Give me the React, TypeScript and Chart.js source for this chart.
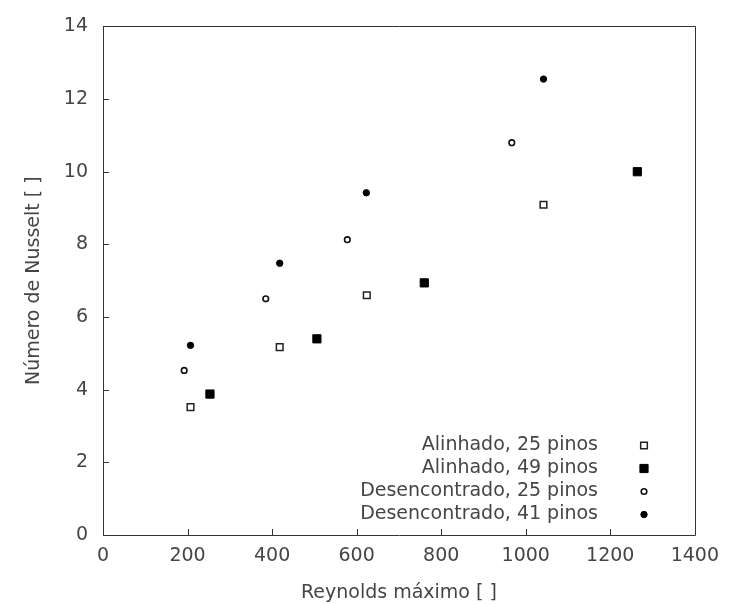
import React, { useEffect, useRef } from 'react';
import { Chart, registerables } from 'chart.js';

Chart.register(...registerables);

// ---- data ----
const seriesLabels = [
  'Alinhado, 25 pinos',
  'Alinhado, 49 pinos',
  'Desencontrado, 25 pinos',
  'Desencontrado, 41 pinos',
];
const reAlinhado25 = [207, 418, 624, 1042];
const nuAlinhado25 = [3.52, 5.17, 6.6, 9.09];
const reAlinhado49 = [253, 506, 760, 1264];
const nuAlinhado49 = [3.88, 5.4, 6.94, 10.0];
const reDesenc25 = [192, 385, 578, 967];
const nuDesenc25 = [4.53, 6.5, 8.13, 10.8];
const reDesenc41 = [207, 418, 623, 1042];
const nuDesenc41 = [5.22, 7.48, 9.42, 12.55];

const xTickValues = [0, 200, 400, 600, 800, 1000, 1200, 1400];
const yTickValues = [0, 2, 4, 6, 8, 10, 12, 14];
const xTitle = 'Reynolds máximo [ ]';
const yTitle = 'Número de Nusselt [ ]';

const FONT = "'DejaVu Sans', Verdana, sans-serif";
const FS = 19;
const TEXT = '#454545';
const AXIS = '#333333';

const pts = (xs: number[], ys: number[]) => xs.map((x, i) => ({ x, y: ys[i] }));

const markerStyles = [
  { pointStyle: 'rect', radius: 4.7, bg: '#ffffff', border: '#222222', bw: 1.5 },
  { pointStyle: 'rect', radius: 5.8, bg: '#000000', border: '#000000', bw: 1 },
  { pointStyle: 'circle', radius: 2.8, bg: '#ffffff', border: '#111111', bw: 1.6 },
  { pointStyle: 'circle', radius: 3.2, bg: '#000000', border: '#000000', bw: 1 },
];

function drawMarker(ctx: CanvasRenderingContext2D, style: any, x: number, y: number) {
  ctx.save();
  ctx.fillStyle = style.bg;
  ctx.strokeStyle = style.border;
  ctx.lineWidth = style.bw;
  ctx.beginPath();
  if (style.pointStyle === 'rect') {
    const s = Math.SQRT1_2 * style.radius;
    ctx.rect(x - s, y - s, 2 * s, 2 * s);
  } else {
    ctx.arc(x, y, style.radius, 0, Math.PI * 2);
  }
  ctx.fill();
  ctx.stroke();
  ctx.restore();
}

const framePlugin = {
  id: 'frameAndTicks',
  afterDatasetsDraw(chart: any) {
    const { ctx, chartArea } = chart;
    const { left, right, top, bottom } = chartArea;
    const xs = chart.scales.x;
    const ys = chart.scales.y;
    ctx.save();
    ctx.strokeStyle = AXIS;
    ctx.lineWidth = 1;
    ctx.beginPath();
    ctx.rect(Math.round(left) + 0.5, Math.round(top) + 0.5, Math.round(right - left), Math.round(bottom - top));
    ctx.stroke();
    ctx.beginPath();
    xTickValues.forEach((v) => {
      const px = Math.round(xs.getPixelForValue(v)) + 0.5;
      ctx.moveTo(px, bottom);
      ctx.lineTo(px, bottom - 6);
    });
    yTickValues.forEach((v) => {
      const py = Math.round(ys.getPixelForValue(v)) + 0.5;
      ctx.moveTo(left, py);
      ctx.lineTo(left + 6, py);
    });
    ctx.stroke();
    ctx.restore();
  },
  afterDraw(chart: any) {
    const { ctx } = chart;
    const textRight = 598;
    const markerX = 644;
    const rowY0 = 445.5;
    const rowGap = 23;
    ctx.save();
    ctx.font = `${FS}px ${FONT}`;
    ctx.fillStyle = TEXT;
    ctx.textAlign = 'right';
    ctx.textBaseline = 'middle';
    chart.data.datasets.forEach((ds: any, i: number) => {
      const y = rowY0 + i * rowGap;
      ctx.fillText(ds.label, textRight, y);
      drawMarker(ctx, markerStyles[i], markerX, y);
    });
    ctx.restore();
  },
};

export default function App() {
  const ref = useRef<HTMLCanvasElement | null>(null);
  useEffect(() => {
    if (!ref.current) return;
    const series = [
      pts(reAlinhado25, nuAlinhado25),
      pts(reAlinhado49, nuAlinhado49),
      pts(reDesenc25, nuDesenc25),
      pts(reDesenc41, nuDesenc41),
    ];
    const chart = new Chart(ref.current, {
      type: 'scatter',
      data: {
        datasets: series.map((data, i) => ({
          label: seriesLabels[i],
          data,
          pointStyle: markerStyles[i].pointStyle as any,
          pointRadius: markerStyles[i].radius,
          pointBackgroundColor: markerStyles[i].bg,
          pointBorderColor: markerStyles[i].border,
          pointBorderWidth: markerStyles[i].bw,
          showLine: false,
        })),
      },
      options: {
        animation: false,
        responsive: false,
        devicePixelRatio: 1,
        layout: { padding: { left: 0, right: 27, top: 22, bottom: 0 } },
        plugins: {
          legend: { display: false },
          tooltip: { enabled: false },
        },
        scales: {
          x: {
            type: 'linear',
            min: 0,
            max: 1400,
            afterBuildTicks: (s: any) => {
              s.ticks = xTickValues.map((v) => ({ value: v }));
            },
            afterFit: (s: any) => {
              s.height = 69;
            },
            border: { display: false },
            grid: { display: false, drawTicks: false },
            ticks: {
              autoSkip: false,
              maxRotation: 0,
              padding: 10,
              color: TEXT,
              font: { family: FONT, size: FS },
              callback: (v: any) => String(v),
            },
            title: {
              display: true,
              text: xTitle,
              color: TEXT,
              font: { family: FONT, size: FS },
              padding: { top: 0, bottom: 0 },
            },
          },
          y: {
            type: 'linear',
            min: 0,
            max: 14,
            afterBuildTicks: (s: any) => {
              s.ticks = yTickValues.map((v) => ({ value: v }));
            },
            afterFit: (s: any) => {
              s.width = 103;
            },
            border: { display: false },
            grid: { display: false, drawTicks: false },
            ticks: {
              autoSkip: false,
              padding: 15,
              color: TEXT,
              font: { family: FONT, size: FS },
              callback: (v: any) => String(v),
            },
            title: {
              display: true,
              text: yTitle,
              color: TEXT,
              font: { family: FONT, size: FS },
              padding: { top: 23, bottom: 0 },
            },
          },
        },
      },
      plugins: [framePlugin],
    });
    return () => chart.destroy();
  }, []);
  return (
    <div style={{ position: 'fixed', left: 0, top: 0, width: 729, height: 604, background: '#ffffff' }}>
      <canvas ref={ref} width={729} height={604} style={{ display: 'block' }} />
    </div>
  );
}
